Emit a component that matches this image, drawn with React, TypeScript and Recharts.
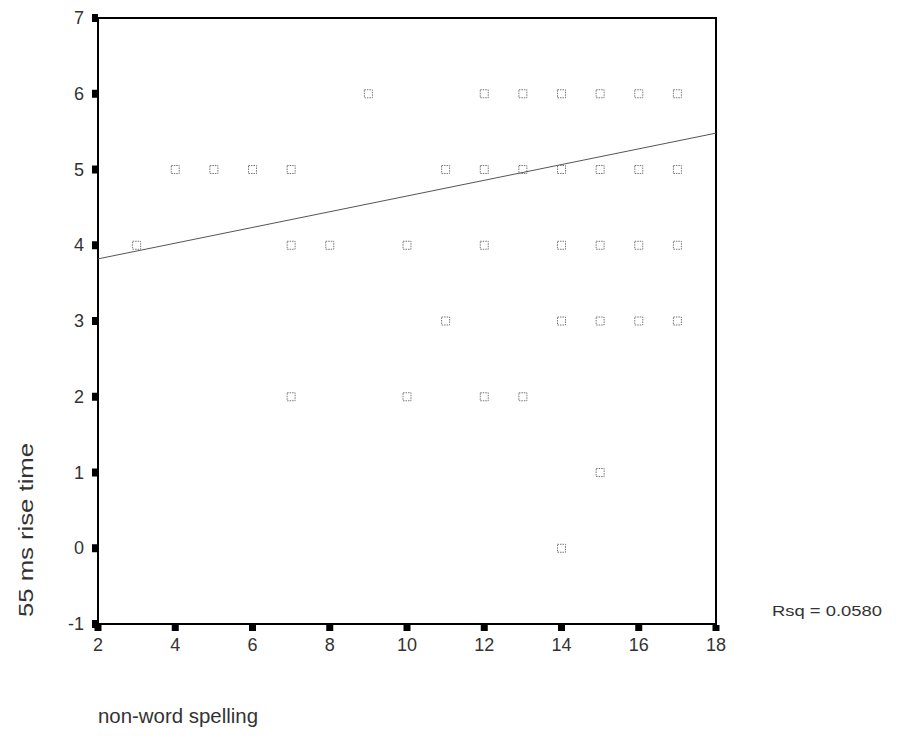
import { ReferenceArea, ReferenceLine, Scatter, ScatterChart, XAxis, YAxis, Label } from "recharts";

// non-word spelling score (x) and 55 ms rise time (y), one entry per plotted square
const spelling = [
  9, 12, 13, 14, 15, 16, 17,
  4, 5, 6, 7, 11, 12, 13, 14, 15, 16, 17,
  3, 7, 8, 10, 12, 14, 15, 16, 17,
  11, 14, 15, 16, 17,
  7, 10, 12, 13,
  15,
  14,
];
const riseTime = [
  6, 6, 6, 6, 6, 6, 6,
  5, 5, 5, 5, 5, 5, 5, 5, 5, 5, 5,
  4, 4, 4, 4, 4, 4, 4, 4, 4,
  3, 3, 3, 3, 3,
  2, 2, 2, 2,
  1,
  0,
];
const xTicks = [2, 4, 6, 8, 10, 12, 14, 16, 18];
const yTicks = [-1, 0, 1, 2, 3, 4, 5, 6, 7];
// fitted line read at both ends of the x range
const fitX = [2, 18];
const fitY = [3.82, 5.48];
const rsq = "0.0580";

const points = spelling.map((x, i) => ({ x, y: riseTime[i] }));
const font = "'Liberation Sans', Arial, sans-serif";

const XTick = (p: any) => (
  <g>
    <rect x={p.x - 3.5} y={p.y + 1} width={7} height={6} fill="#000" />
    <text x={p.x} y={p.y + 27} textAnchor="middle" fontSize={18} fontFamily={font} fill="#333">
      {p.payload.value}
    </text>
  </g>
);

const YTick = (p: any) => (
  <g>
    <rect x={p.x - 6} y={p.y - 4} width={6} height={8} fill="#000" />
    <text x={p.x - 14} y={p.y + 6} textAnchor="end" fontSize={18} fontFamily={font} fill="#333">
      {p.payload.value}
    </text>
  </g>
);

const Square = (p: any) => (
  <rect
    x={p.cx - 4}
    y={p.cy - 4}
    width={8}
    height={8}
    fill="none"
    stroke="#777"
    strokeDasharray="1.5 1"
  />
);

export default function App() {
  return (
    <div style={{ margin: -8, width: 900, height: 736, background: "#fff" }}>
      <ScatterChart width={900} height={736} margin={{ top: 18, right: 184, bottom: 72, left: 0 }}>
        <XAxis
          type="number"
          dataKey="x"
          domain={[2, 18]}
          ticks={xTicks}
          allowDataOverflow
          axisLine={false}
          tickLine={false}
          tickSize={0}
          tickMargin={0}
          height={40}
          tick={XTick}
        >
          <Label
            content={() => (
              <text x={98} y={723} fontSize={20} fontFamily={font} fill="#333" textLength={160} lengthAdjust="spacingAndGlyphs">
                non-word spelling
              </text>
            )}
          />
        </XAxis>
        <YAxis
          type="number"
          dataKey="y"
          domain={[-1, 7]}
          ticks={yTicks}
          allowDataOverflow
          axisLine={false}
          tickLine={false}
          tickSize={0}
          tickMargin={0}
          width={98}
          tick={YTick}
        >
          <Label
            content={() => (
              <text
                x={33}
                y={530}
                transform="rotate(-90 33 530)"
                textAnchor="middle"
                fontSize={20}
                fontFamily={font}
                fill="#333"
                textLength={174}
                lengthAdjust="spacingAndGlyphs"
              >
                55 ms rise time
              </text>
            )}
          />
        </YAxis>
        <ReferenceArea x1={2} x2={18} y1={-1} y2={7} fill="none" stroke="#000" strokeWidth={2} ifOverflow="visible" />
        <ReferenceLine
          segment={[
            { x: fitX[0], y: fitY[0] },
            { x: fitX[1], y: fitY[1] },
          ]}
          stroke="#555"
          strokeWidth={1}
        />
        <Scatter data={points} shape={Square} isAnimationActive={false} />
        <ReferenceLine
          y={-1}
          stroke="none"
          label={() => (
            <text x={772} y={616} fontSize={15} fontFamily={font} fill="#333" textLength={110} lengthAdjust="spacingAndGlyphs">
              {`Rsq = ${rsq}`}
            </text>
          )}
        />
      </ScatterChart>
    </div>
  );
}
